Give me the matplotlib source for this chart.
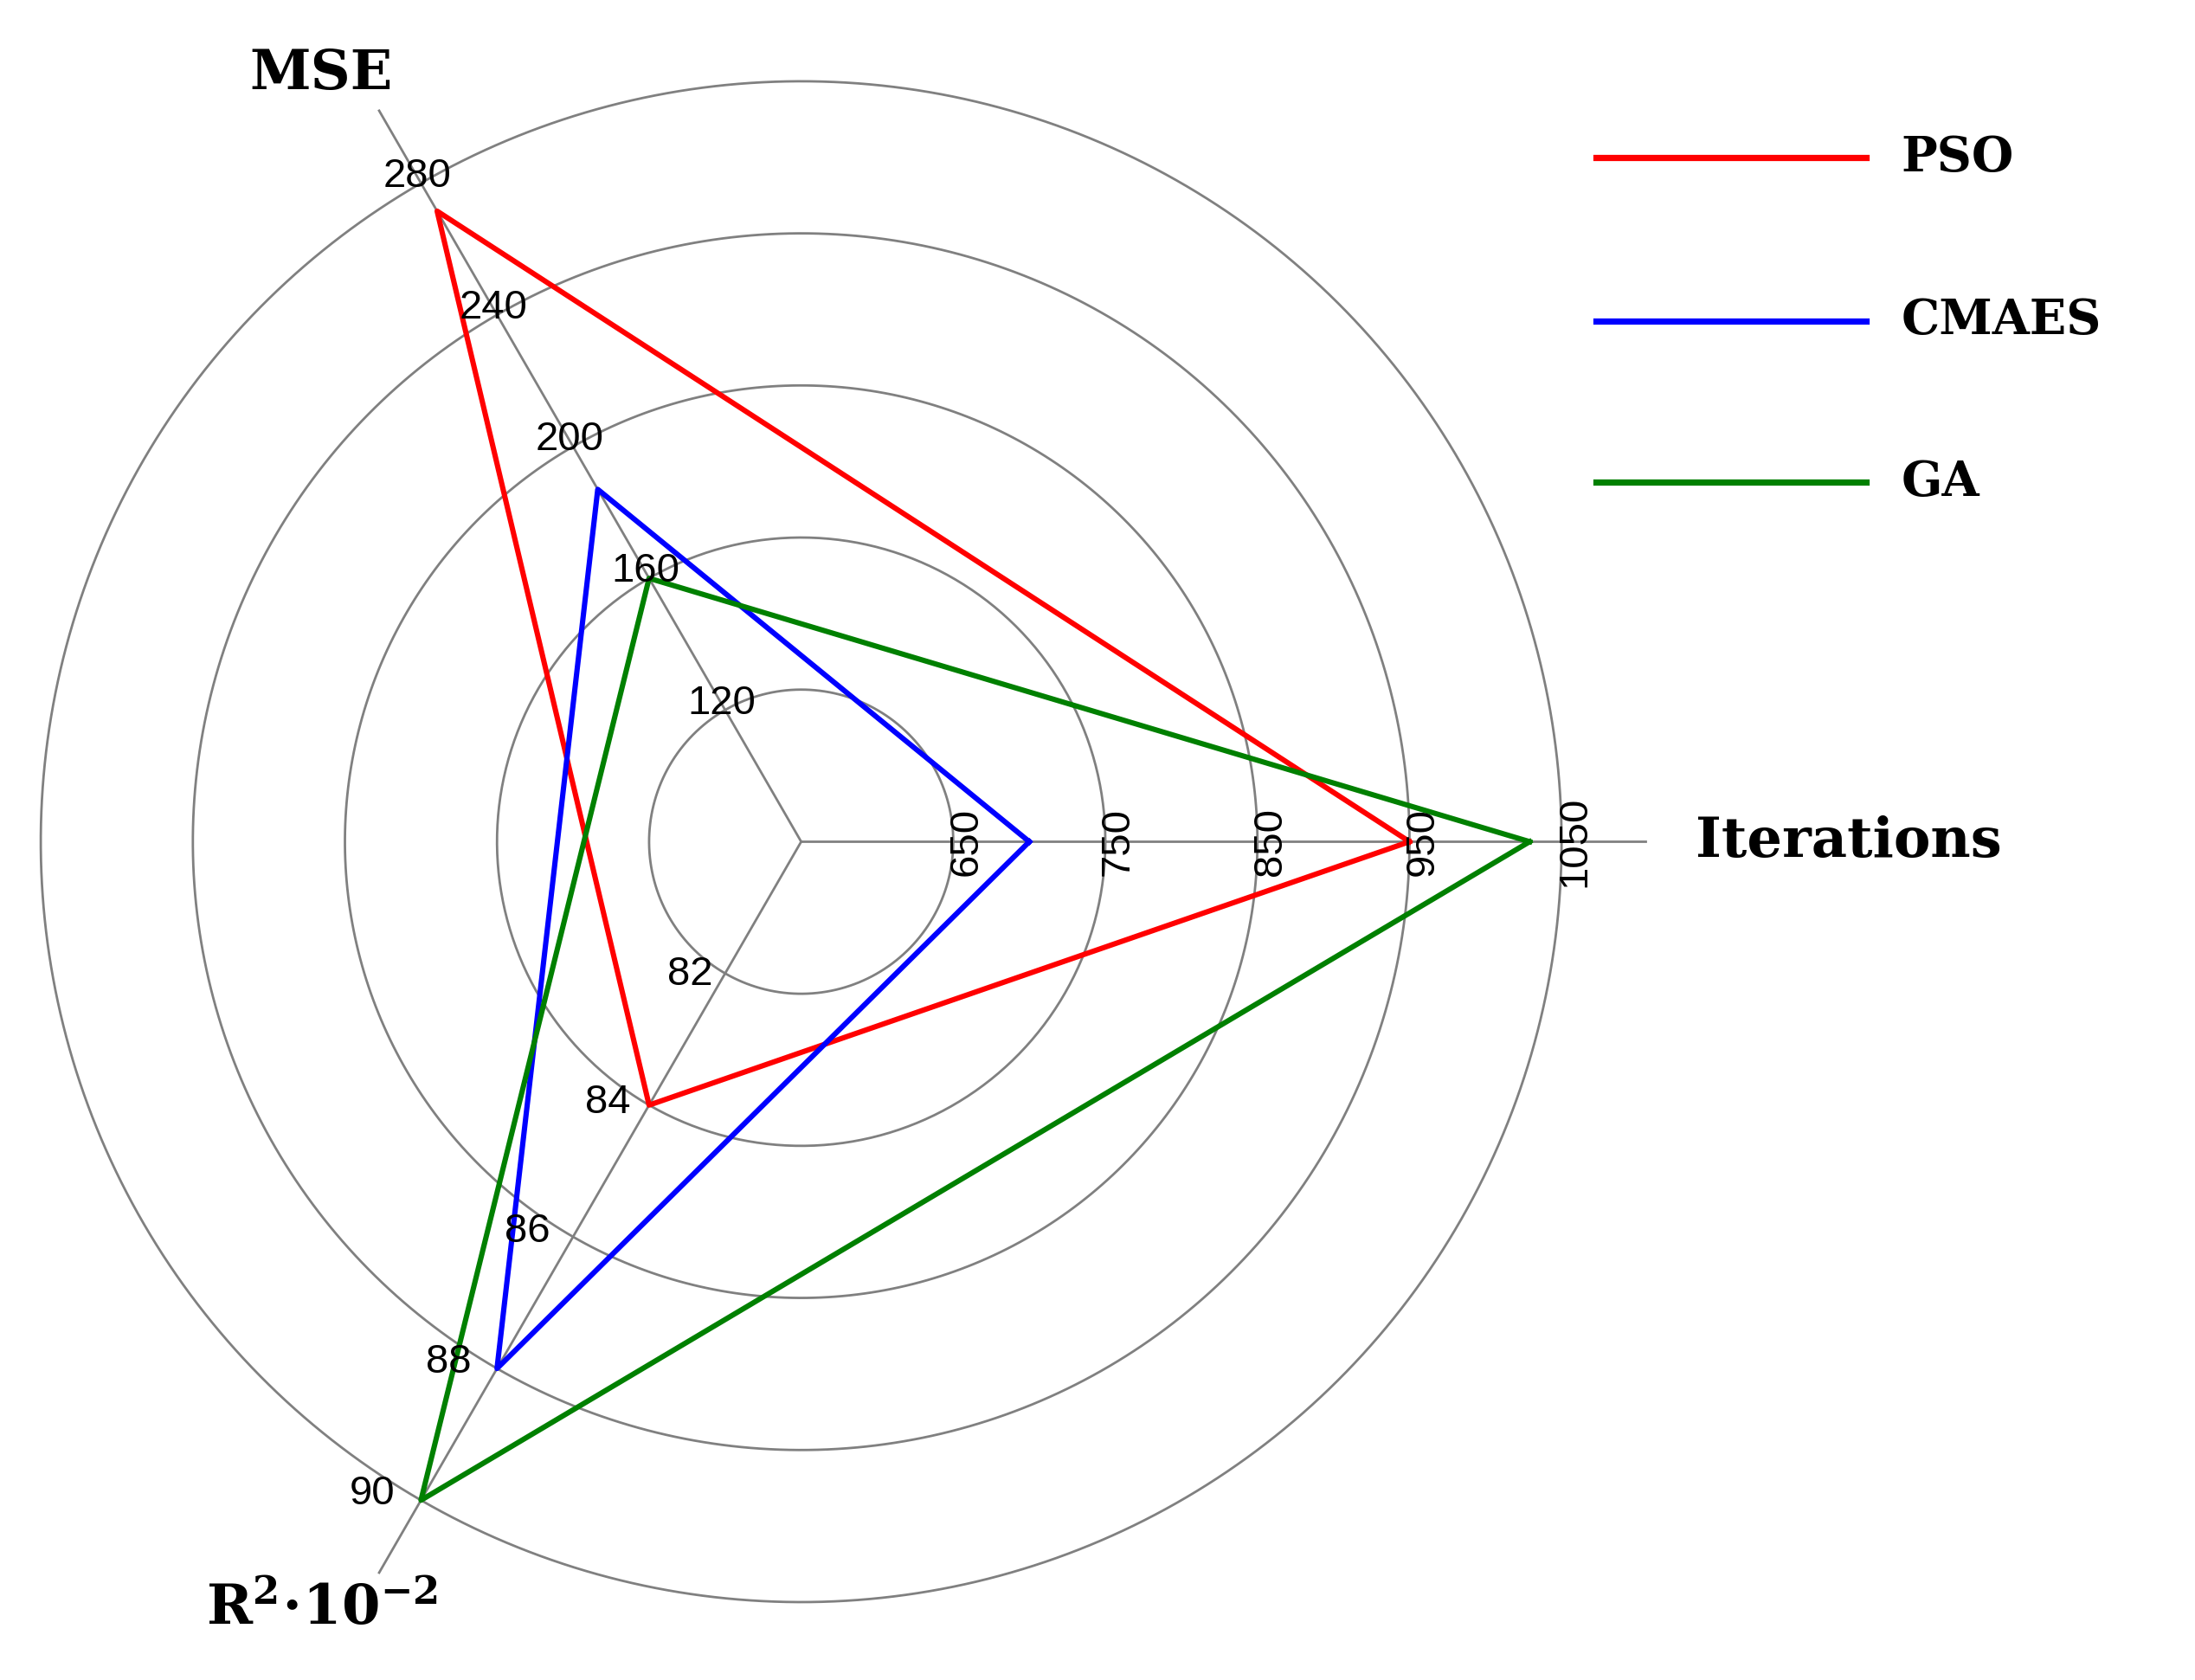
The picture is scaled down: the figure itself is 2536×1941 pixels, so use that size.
import numpy as np
import matplotlib
matplotlib.use("Agg")
import matplotlib.pyplot as plt
from matplotlib.lines import Line2D

plt.rcParams["mathtext.fontset"] = "dejavuserif"

axes_names = ["Iterations", "MSE", r"$\mathbf{R^2{\cdot}10^{-2}}$"]
angles_deg = [0, 120, 240]
tick_labels = [["650", "750", "850", "950", "1050"],
               ["120", "160", "200", "240", "280"],
               ["82", "84", "86", "88", "90"]]
axis_base = [550, 80, 80]
axis_step = [100, 40, 2]
series = ["PSO", "CMAES", "GA"]
colors = ["#ff0000", "#0000ff", "#008000"]
values = {"PSO": [950, 271.5, 84], "CMAES": [700, 187, 88], "GA": [1029, 160, 90]}

fig = plt.figure(figsize=(12.68, 9.705), dpi=200)
ax = fig.add_axes([0.365 - 0.388, 0.499 - 0.507, 0.776, 1.014], projection="polar")
ax.set_ylim(0, 5.6)
ax.set_yticks([1, 2, 3, 4, 5])
ax.set_yticklabels([])
ax.set_xticks([])
ax.grid(False)
ax.spines["polar"].set_visible(False)
ax.patch.set_alpha(0)
th = np.linspace(0, 2*np.pi, 400)
for k in range(1, 6):
    ax.plot(th, np.full_like(th, k), color="#808080", lw=1.0, zorder=1)
ang = np.deg2rad(angles_deg)
for a in ang:
    ax.plot([a, a], [0, 5.55], color="#808080", lw=1.0, zorder=1)

for s, c in zip(series, colors):
    r = [(v - b) / st for v, b, st in zip(values[s], axis_base, axis_step)]
    ax.plot(list(ang) + [ang[0]], r + [r[0]], color=c, lw=2.2, zorder=3)

tf = dict(family="Liberation Sans", fontsize=17, zorder=4)
for i, (a, labs) in enumerate(zip(ang, tick_labels)):
    for k, lab in enumerate(labs, start=1):
        if i == 0:
            ax.text(a, k - 0.04, lab, rotation=90, ha="left", va="center", **tf)
        elif i == 1:
            ax.text(a, k + 0.05, lab, ha="center", va="center", **tf)
        else:
            ax.text(a - 0.04 * (6 - k) / 5 - 0.025, k + 0.05, lab, ha="right", va="center", **tf)

lf = dict(family="DejaVu Serif", fontweight="bold", fontsize=23)
ax.text(ang[0], 5.88, axes_names[0], ha="left", va="center", **lf)
ax.text(ang[1] + 0.035, 5.95, axes_names[1], ha="center", va="center", **lf)
ax.text(ang[2] - 0.035, 5.95, axes_names[2], ha="center", va="center", **lf)

ys = [0.906, 0.809, 0.713]
for s, c, y in zip(series, colors, ys):
    fig.add_artist(Line2D([0.727, 0.85], [y, y], color=c, lw=2.6, transform=fig.transFigure))
    fig.text(0.866, y, s, ha="left", va="center", family="DejaVu Serif",
             fontweight="bold", fontsize=20)

fig.savefig("out.png", dpi=200)
